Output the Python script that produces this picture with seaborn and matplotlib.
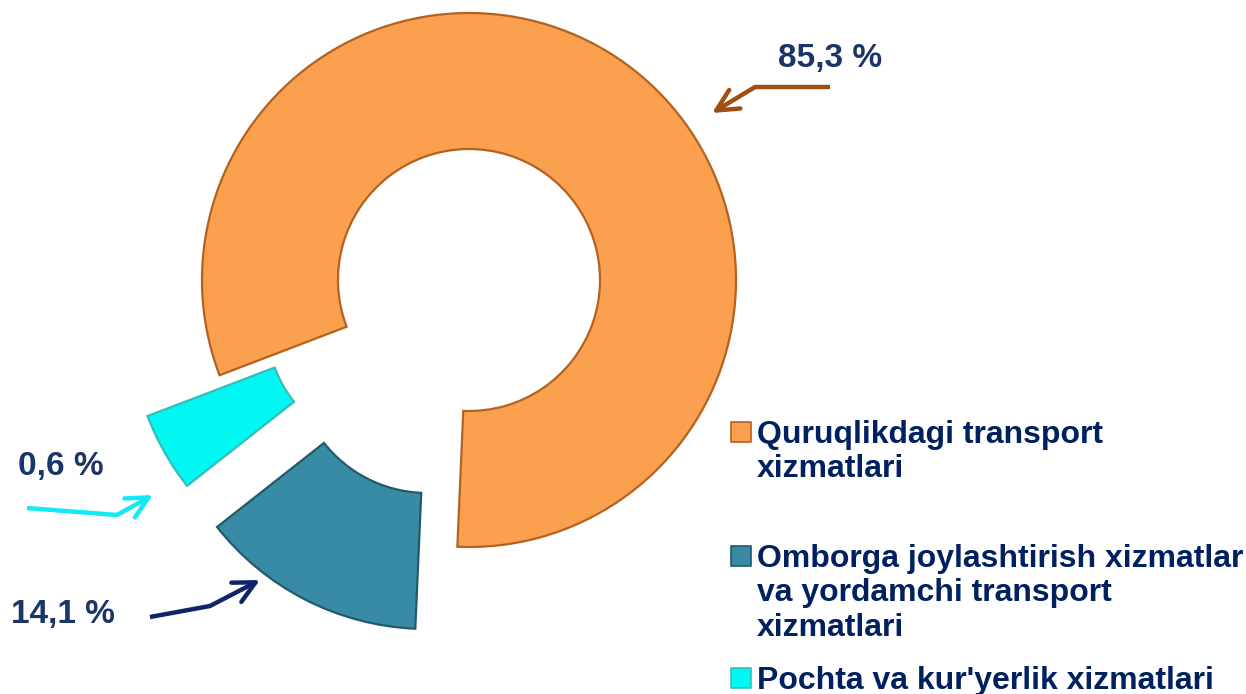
import matplotlib
matplotlib.use("Agg")
import matplotlib.pyplot as plt
import seaborn as sns

# ---- data ----
categories = [
    "Quruqlikdagi transport\nxizmatlari",
    "Omborga joylashtirish xizmatlar\nva yordamchi transport\nxizmatlari",
    "Pochta va kur'yerlik xizmatlari",
]
# wedge sizes as drawn in the reference picture
wedge_shares = [81.5, 13.7, 4.8]
# value labels as printed on the reference
value_labels = ["85,3 %", "14,1 %", "0,6 %"]
colors = ["#FBA04F", "#388BA4", "#00F7F2"]
edge_colors = ["#B3621F", "#23596B", "#35BDBA"]

sns.set_theme(style="white")
plt.rcParams["font.family"] = ["Liberation Sans", "DejaVu Sans"]

W, H = 1246, 694
fig = plt.figure(figsize=(W / 100, H / 100), dpi=100)
ax = fig.add_axes([0, 0, 1, 1])

def Y(y_img):
    return H - y_img

cx, cy, R = 469, Y(280), 267
explode = [0.0, 0.345 * R, 0.31 * R]   # matplotlib explode is in data units
wedges, _ = ax.pie(
    wedge_shares,
    colors=colors,
    explode=explode,
    startangle=200.9,
    counterclock=False,
    center=(cx, cy),
    radius=R,
    frame=True,
    wedgeprops=dict(width=R - 131, linewidth=1.6),
)
for w, ec in zip(wedges, edge_colors):
    w.set_edgecolor(ec)
ax.set_xlim(0, W)
ax.set_ylim(0, H)
ax.set_aspect("equal")
ax.set_axis_off()

navy = "#1A3567"
lab_pos = [(830, 58), (63, 615), (61, 466)]
arrow_paths = [
    [(830, 87), (755, 87), (712, 113)],
    [(150, 617), (210, 606), (260, 580)],
    [(27, 508), (117, 515), (153, 495)],
]
arrow_colors = ["#A04E12", "#10246A", "#12E9F2"]
for lbl, (lx, ly), path, col in zip(value_labels, lab_pos, arrow_paths, arrow_colors):
    ax.text(lx, Y(ly), lbl, ha="center", va="center", fontsize=24,
            fontweight="bold", color=navy)
    (x0, y0), (x1, y1), (x2, y2) = path
    ax.plot([x0, x1], [Y(y0), Y(y1)], color=col, lw=3.2, solid_capstyle="butt")
    ax.annotate("", xy=(x2, Y(y2)), xytext=(x1, Y(y1)),
                arrowprops=dict(arrowstyle="->,head_length=1.3,head_width=0.65",
                                color=col, lw=3.2, shrinkA=0, shrinkB=0))

# legend drawn manually
leg_marker_y = [432, 556, 678]
leg_text_top = [420, 544, 666]
legend_color = "#002060"
for cat, c, ec, ym, yt in zip(categories, colors, edge_colors, leg_marker_y, leg_text_top):
    ax.scatter([741], [Y(ym)], marker="s", s=190, color=c, edgecolor=ec, linewidth=1.2)
    ax.text(757, Y(yt), cat, ha="left", va="top", fontsize=23, fontweight="bold",
            color=legend_color, linespacing=1.19)

fig.savefig("out.png", dpi=100)
